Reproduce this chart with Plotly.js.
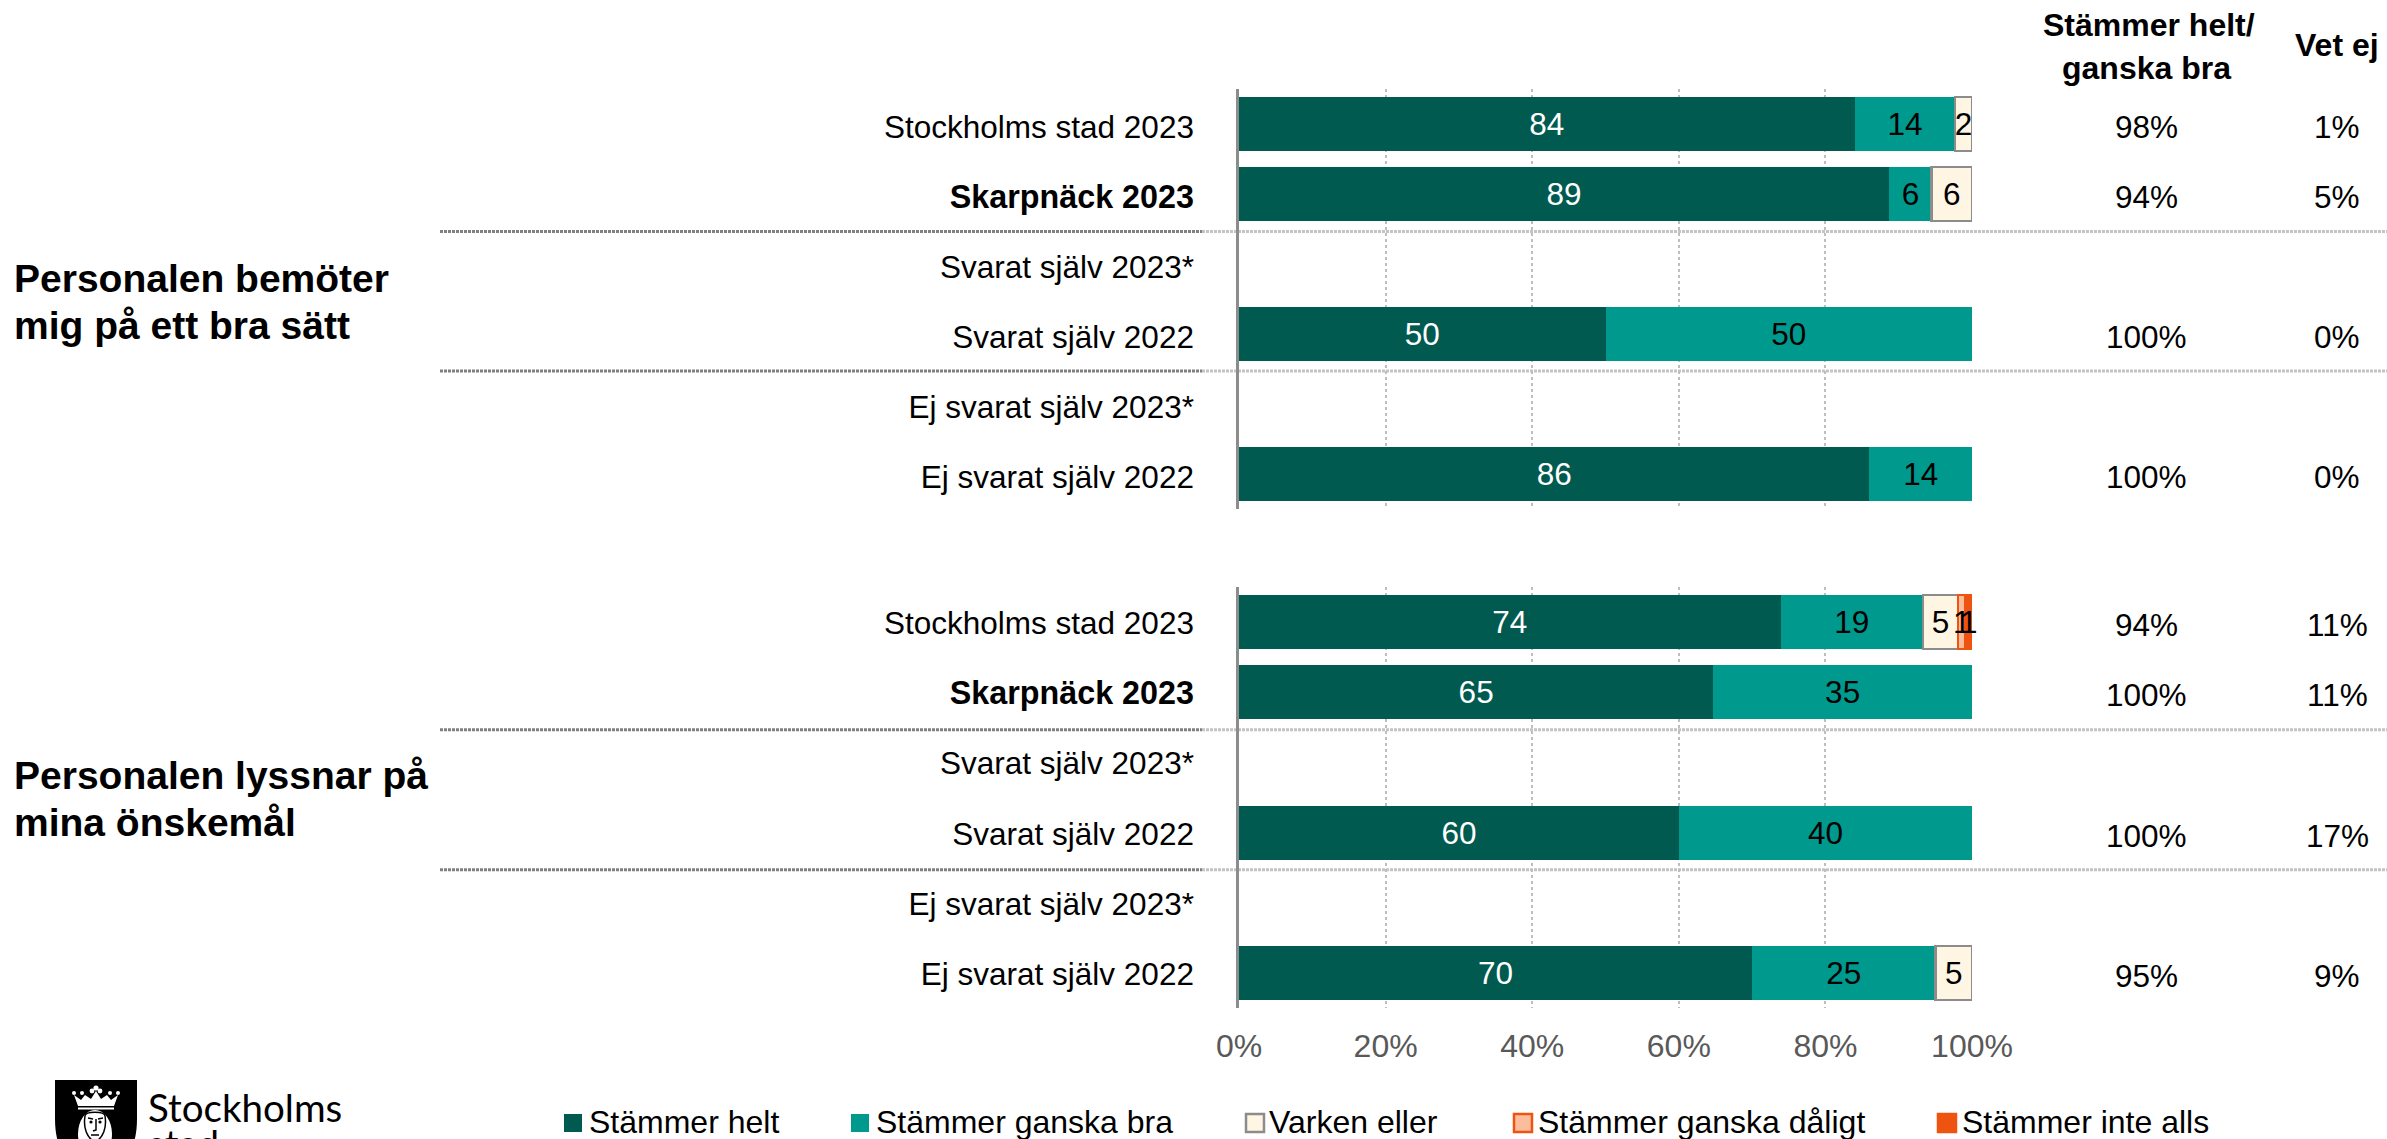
<!DOCTYPE html>
<html lang="sv">
<head>
<meta charset="utf-8">
<title>Personalen</title>
<script src="https://cdn.plot.ly/plotly-3.0.1.min.js"></script>
<style>html,body{margin:0;padding:0;background:#fff;overflow:hidden}#chart{width:2387px;height:1139px}</style>
</head>
<body>
<div id="chart"></div>
<script>
// ---- data ----
const rowLabels = ["Stockholms stad 2023", "<b><span style=\"font-size:32.3px\">Skarpnäck 2023</span></b>", "Svarat själv 2023*", "Svarat själv 2022", "Ej svarat själv 2023*", "Ej svarat själv 2022"];
const seriesNames = ["Stämmer helt", "Stämmer ganska bra", "Varken eller", "Stämmer ganska dåligt", "Stämmer inte alls"];

const bemoterHelt   = [84.0, 88.7, null, 50, null, 86];
const bemoterBra    = [13.7, 5.8, null, 50, null, 14];
const bemoterVarken = [2.3, 5.5, null, null, null, null];
const bemoterDaligt = [null, null, null, null, null, null];
const bemoterInte   = [null, null, null, null, null, null];

const lyssnarHelt   = [73.9, 64.7, null, 60, null, 70];
const lyssnarBra    = [19.4, 35.3, null, 40, null, 25];
const lyssnarVarken = [4.8, null, null, null, null, 5];
const lyssnarDaligt = [1.0, null, null, null, null, null];
const lyssnarInte   = [0.89, null, null, null, null, null];

const bemoterBraTotal = ["98%", "94%", "", "100%", "", "100%"];
const bemoterVetEj    = ["1%", "5%", "", "0%", "", "0%"];
const lyssnarBraTotal = ["94%", "100%", "", "100%", "", "95%"];
const lyssnarVetEj    = ["11%", "11%", "", "17%", "", "9%"];

const groupTitleTop = ["Personalen bemöter", "mig på ett bra sätt"];
const groupTitleBottom = ["Personalen lyssnar på", "mina önskemål"];
const columnHeadA = ["Stämmer helt/", "ganska bra"];
const columnHeadB = "Vet ej";
const xTicks = [0, 20, 40, 60, 80, 100];
const xTickLabels = ["0%", "20%", "40%", "60%", "80%", "100%"];
const rowIndex = [0, 1, 2, 3, 4, 5];

// ---- styles ----
const FONT = '"Liberation Sans", Arial, sans-serif';
const fills = ["#005A4F", "#00998D", "#FFF5E3", "#FBBD9C", "#EE5410"];
const borders = [null, null, "#8C8C8C", "#EE5410", "#EE5410"];
const textColors = ["#ffffff", "#000000", "#000000", "#000000", "#000000"];

// ---- pixel frame ----
const W = 2387, H = 1139, L = 1239, R = 1972, T = 89, B = 1008;
const px = x => (x - L) / (R - L);
const py = y => (B - y) / (B - T);

const tracesFor = (cols, xa, ya) => cols.map((vals, i) => ({
  type: "bar", orientation: "h", name: seriesNames[i], x: vals, y: rowIndex,
  xaxis: xa, yaxis: ya, width: 0.77,
  marker: {color: fills[i], line: {color: borders[i] || fills[i], width: borders[i] ? 2.5 : 0}},
  texttemplate: "%{x:.0f}", textposition: "inside", insidetextanchor: "middle", textangle: 0,
  constraintext: "none", cliponaxis: false,
  textfont: {family: FONT, size: 31.5, color: textColors[i]},
  hoverinfo: "x+y", showlegend: false
}));

const data = [
  ...tracesFor([bemoterHelt, bemoterBra, bemoterVarken, bemoterDaligt, bemoterInte], "x", "y"),
  ...tracesFor([lyssnarHelt, lyssnarBra, lyssnarVarken, lyssnarDaligt, lyssnarInte], "x2", "y2")
];

const note = (text, x, y, opt = {}) => Object.assign({
  text, x, y, xref: "paper", yref: "paper", xanchor: "center", yanchor: "middle", showarrow: false,
  font: {family: FONT, size: 31.5, color: "#000"}, borderpad: 0, borderwidth: 0
}, opt);

const annotations = [];
// value columns
[[bemoterBraTotal, bemoterVetEj, "y"], [lyssnarBraTotal, lyssnarVetEj, "y2"]].forEach(([a, b, yr]) => {
  rowIndex.forEach(r => {
    if (a[r]) annotations.push(note(a[r], px(2146), r, {yref: yr, yshift: -3}));
    if (b[r]) annotations.push(note(b[r], px(2337), r, {yref: yr, yshift: -3}));
  });
});
// column headers
const boldHead = {family: FONT, size: 32, color: "#000"};
annotations.push(note("<b>" + columnHeadA[0] + "</b>", px(2149), py(25), {font: boldHead}));
annotations.push(note("<b>" + columnHeadA[1] + "</b>", px(2146), py(68), {font: boldHead}));
annotations.push(note("<b>" + columnHeadB + "</b>", px(2337), py(45), {font: boldHead}));
// group titles
const boldTitle = {family: FONT, size: 39, color: "#000"};
[[groupTitleTop, 278], [groupTitleBottom, 775]].forEach(([lines, y0]) => {
  lines.forEach((t, i) => annotations.push(note("<b>" + t + "</b>", px(14), py(y0 + i * 47), {xanchor: "left", font: boldTitle})));
});
// legend labels
const legendBox = [564, 851, 1246, 1514, 1938];
const legendText = [589, 876, 1269, 1538, 1962];
seriesNames.forEach((n, i) => annotations.push(note(n, px(legendText[i]), py(1122), {xanchor: "left", font: {family: FONT, size: 32, color: "#000"}})));
// logo wordmark
annotations.push(note("Stockholms", px(148), py(1107), {xanchor: "left", font: {family: "Lato, sans-serif", size: 38.5, color: "#000"}}));
annotations.push(note("stad", px(148), py(1143), {xanchor: "left", font: {family: "Lato, sans-serif", size: 38.5, color: "#000"}}));

const shapes = [];
// separators
const sep = (y, yr, x0, x1, color) => ({type: "line", xref: "paper", yref: yr, x0: px(x0), x1: px(x1), y0: y, y1: y,
  line: {color, width: 3, dash: "3px,1px"}, layer: "below"});
[[1.535, "y"], [3.53, "y"], [1.535, "y2"], [3.53, "y2"]].forEach(([y, yr]) => {
  shapes.push(sep(y, yr, 440, 1202, "#808080"));
  shapes.push(sep(y, yr, 1202, W, "#C4C4C4"));
});
// legend swatches
seriesNames.forEach((n, i) => shapes.push({type: "rect", xref: "paper", yref: "paper",
  x0: px(legendBox[i]), x1: px(legendBox[i] + 18), y0: py(1114), y1: py(1132),
  fillcolor: fills[i], line: {color: borders[i] || fills[i], width: borders[i] ? 2.5 : 0}}));

const shield = `<svg xmlns="http://www.w3.org/2000/svg" viewBox="0 0 82 100">
<path d="M0 0H82V38C82 66 74 84 41 100C8 84 0 66 0 38Z" fill="#000"/>
<g fill="#fff">
<path d="M19 15l4 11H59l4-11-7 5-4-5-6 4-5-8-5 8-6-4-4 5z"/>
<circle cx="41" cy="8" r="2.6"/><circle cx="37" cy="11" r="2.4"/><circle cx="45" cy="11" r="2.4"/>
<circle cx="27" cy="13" r="2"/><circle cx="55" cy="13" r="2"/><circle cx="19" cy="13" r="2"/><circle cx="63" cy="13" r="2"/>
<path d="M23 27.5H59V29.5H23z"/>
<ellipse cx="40" cy="54" rx="17" ry="24"/>
</g>
<g fill="none" stroke="#000" stroke-width="1.5">
<path d="M30 36C30 31 50 31 50 36C52 48 48 58 40 62C32 58 28 48 30 36Z"/>
<path d="M33 38l5 1M43 39l5-1M41 39v11l-3 1M36 55h8"/>
</g>
<g fill="#000"><circle cx="36" cy="42" r="1.6"/><circle cx="45" cy="42" r="1.6"/></g>
</svg>`;

const axisX = {range: [0, 100], tickvals: xTicks, ticktext: xTickLabels, tickmode: "array",
  showgrid: true, gridcolor: "#BEBEBE", gridwidth: 2, griddash: "3px,3px", zeroline: false, showline: false, ticks: "", fixedrange: true};
const axisY = {range: [5.5, -0.5], tickmode: "array", tickvals: rowIndex, ticktext: rowLabels,
  showgrid: false, zeroline: false, showline: true, linecolor: "#8C8C8C", linewidth: 2.5, ticks: "",
  ticklabelstandoff: 36, tickfont: {family: FONT, size: 31.5, color: "#000"}, fixedrange: true};

const layout = {
  width: W, height: H, paper_bgcolor: "#fff", plot_bgcolor: "#fff", barmode: "stack", showlegend: false,
  margin: {l: L, r: W - R, t: T, b: H - B, pad: 0},
  font: {family: FONT},
  xaxis:  Object.assign({}, axisX, {anchor: "y", showticklabels: false}),
  xaxis2: Object.assign({}, axisX, {anchor: "y2", showticklabels: true, ticklabelstandoff: 16, tickfont: {family: FONT, size: 32, color: "#595959"}}),
  yaxis:  Object.assign({}, axisY, {anchor: "x", domain: [py(509), 1], ticklabelshift: -3}),
  yaxis2: Object.assign({}, axisY, {anchor: "x2", domain: [0, py(587)], ticklabelshift: -1}),
  annotations, shapes,
  images: [{source: "data:image/svg+xml;charset=utf-8," + encodeURIComponent(shield), xref: "paper", yref: "paper",
    x: px(55), y: py(1080), sizex: 82 / (R - L), sizey: 100 / (B - T), xanchor: "left", yanchor: "top", sizing: "stretch", layer: "above"}]
};
Plotly.newPlot("chart", data, layout, {displayModeBar: false, responsive: false});
</script>
</body>
</html>
